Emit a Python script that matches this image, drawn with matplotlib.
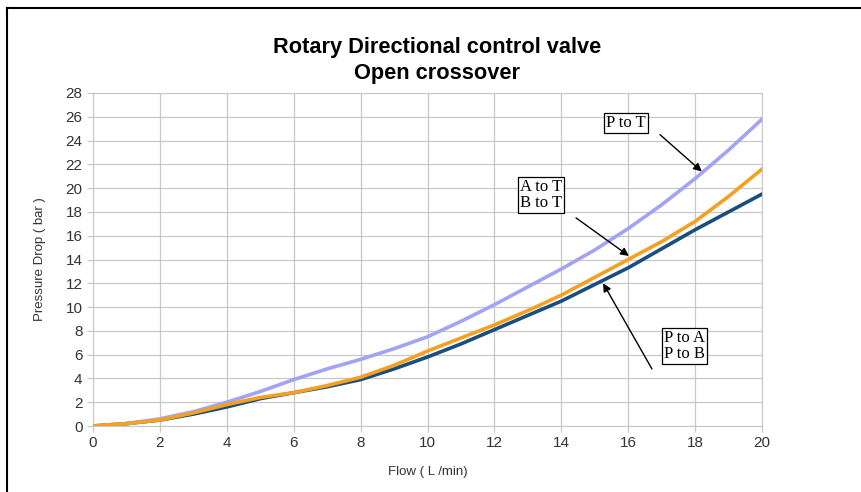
import matplotlib
matplotlib.use("Agg")
from matplotlib import pyplot as plt
from matplotlib.lines import Line2D
import numpy as np

## Data
flow = [0, 1, 2, 3, 4, 5, 6, 7, 8, 9, 10, 11, 12, 13, 14, 15, 16, 17, 18, 19, 20]
p_to_t = [0, 0.2, 0.6, 1.2, 2.0, 2.9, 3.9, 4.8, 5.6, 6.5, 7.5, 8.8, 10.2, 11.7, 13.2, 14.8, 16.6, 18.6, 20.8, 23.2, 25.8]
a_to_t = [0, 0.2, 0.5, 1.1, 1.8, 2.4, 2.8, 3.4, 4.1, 5.1, 6.3, 7.4, 8.5, 9.7, 11.0, 12.5, 14.0, 15.5, 17.2, 19.3, 21.6]
p_to_a = [0, 0.2, 0.5, 1.0, 1.6, 2.3, 2.8, 3.3, 3.9, 4.8, 5.8, 6.9, 8.1, 9.3, 10.5, 11.9, 13.3, 14.9, 16.5, 18.0, 19.5]

x_ticks = np.arange(0, 21, 2)
y_ticks = np.arange(0, 29, 2)

fig = plt.figure(figsize=(8.62, 4.92), dpi=100)
ax = fig.add_axes([93/862, 1-426/492, (762-93)/862, (426-93)/492])

ax.plot(flow, p_to_a, color='#1a4e7e', lw=2.6, zorder=3)
ax.plot(flow, a_to_t, color='#f5a020', lw=2.6, zorder=4)
ax.plot(flow, p_to_t, color='#a3a3f5', lw=2.6, zorder=3)

ax.set_xlim(0, 20)
ax.set_ylim(0, 28)
ax.set_xticks(x_ticks)
ax.set_yticks(y_ticks)
ax.grid(color='#c8c8c8', lw=0.9)
ax.set_axisbelow(True)
for s in ax.spines.values():
    s.set_color('#c8c8c8')
ax.tick_params(colors='#c8c8c8', labelcolor='#333333', labelsize=11, length=4, width=0.9)
for lab in ax.get_xticklabels() + ax.get_yticklabels():
    lab.set_family('Liberation Sans')

ax.set_xlabel('Flow ( L /min)', family='Liberation Sans', fontsize=9.5, color='#333333', labelpad=11)
ax.set_ylabel('Pressure Drop ( bar )', family='Liberation Sans', fontsize=9.5, color='#333333', labelpad=14)

fig.text(437/862, 1-47/492, 'Rotary Directional control valve', ha='center', va='center',
         family='Liberation Sans', fontweight='bold', fontsize=15.7)
fig.text(437/862, 1-74/492, 'Open crossover', ha='center', va='center',
         family='Liberation Sans', fontweight='bold', fontsize=15.7)

## Annotations
box = dict(boxstyle='square,pad=0.12', fc='white', ec='black', lw=0.9)
arrow = dict(arrowstyle='-|>', color='black', lw=1.0, mutation_scale=12, shrinkA=0, shrinkB=0)
ax.text(15.93, 25.5, 'P to T', ha='center', va='center', family='Liberation Serif', fontsize=12, bbox=box, zorder=6)
ax.annotate('', xy=(18.2, 21.4), xytext=(16.95, 24.5), arrowprops=arrow, zorder=6)
ax.text(13.4, 19.4, 'A to T\nB to T', ha='center', va='center', family='Liberation Serif', fontsize=12,
        linespacing=1.0, bbox=box, zorder=6)
ax.annotate('', xy=(16.02, 14.3), xytext=(14.44, 17.5), arrowprops=arrow, zorder=6)
ax.text(17.67, 6.7, 'P to A\nP to B', ha='center', va='center', family='Liberation Serif', fontsize=12,
        linespacing=1.0, bbox=box, zorder=6)
ax.annotate('', xy=(15.25, 12.0), xytext=(16.71, 4.8), arrowprops=arrow, zorder=6)

## Frame lines (top and left)
fig.add_artist(Line2D([7/862, 1], [1-8/492, 1-8/492], color='black', lw=1.5))
fig.add_artist(Line2D([7/862, 7/862], [0, 1-8/492], color='black', lw=1.5))

fig.savefig('out.png', dpi=100)
